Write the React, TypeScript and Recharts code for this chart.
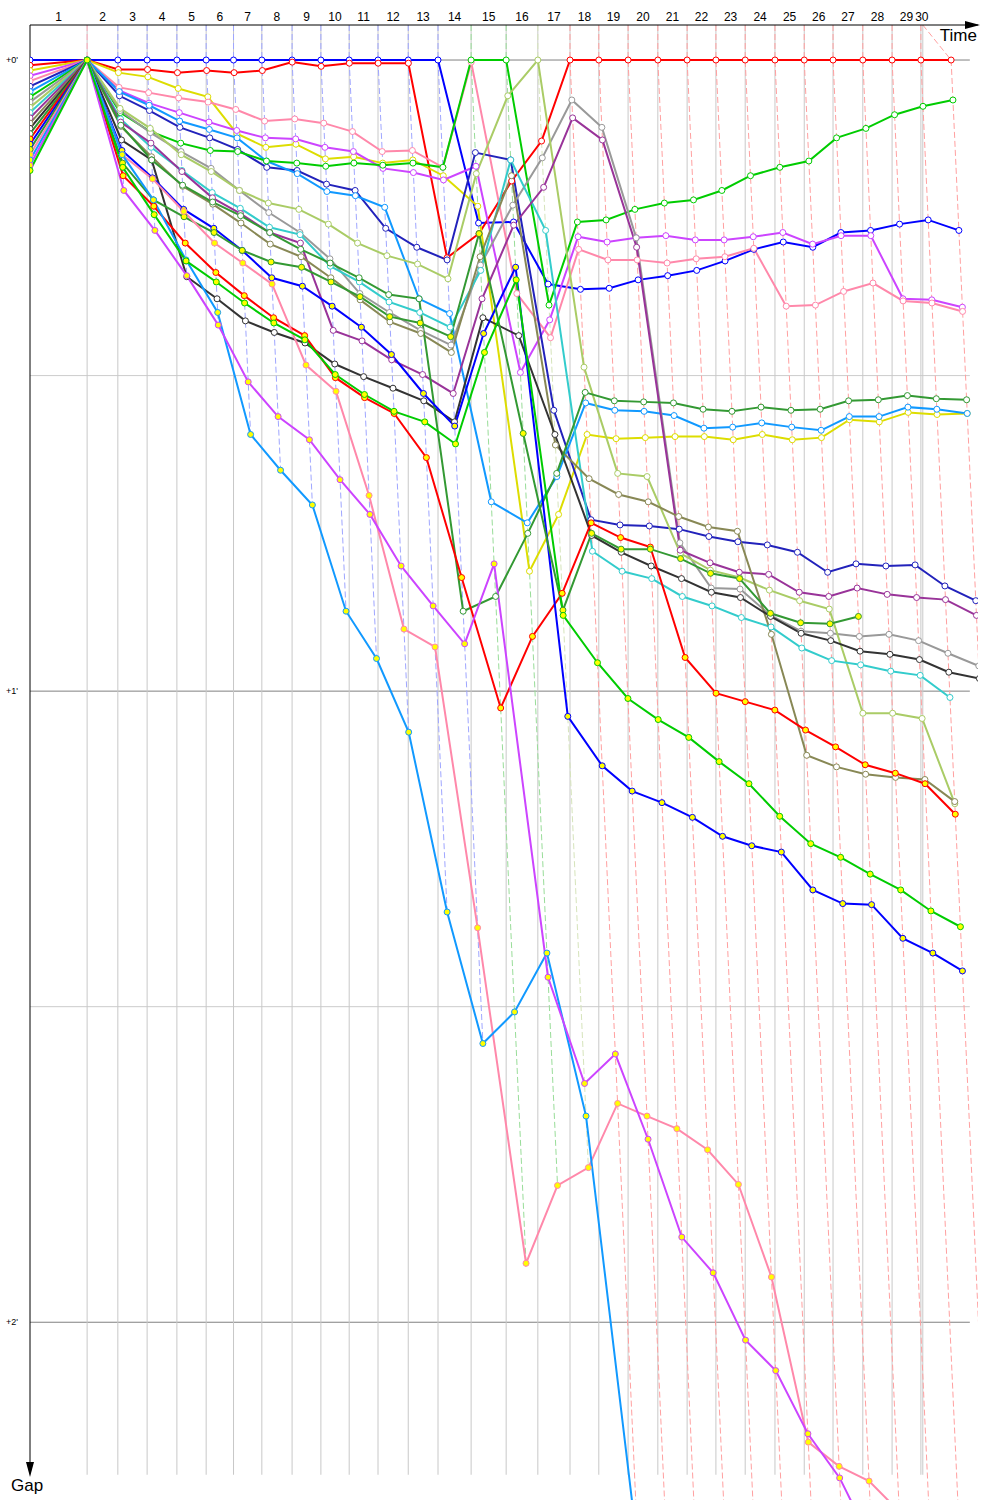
import { LineChart, Line, XAxis, YAxis, ReferenceLine } from "recharts";

// leader's race time (s) at the end of each lap, laps 1..30
const leaderLapTimes = [
  119, 183, 244, 306, 367, 424, 483, 546, 606, 665, 725, 788, 850, 919, 992,
  1058, 1125, 1185, 1246, 1308, 1369, 1429, 1490, 1552, 1613, 1673, 1735, 1796,
  1856, 1919,
];
const finishLineTime = 1860;
const gapTicks = [0, 60, 120];
const gapGrid = [0, 30, 60, 90, 120];

// gap to leader (s): index 0 = grid, then laps 1..30
const blueW = [0, 0, 0, 0, 0, 0, 0, 0, 0, 0, 0, 0, 0, 0, 15.5, 15.4, 21.3, 21.8, 21.7, 20.9, 20.5, 20.0, 19.1, 18.0, 17.3, 17.8, 16.4, 16.2, 15.6, 15.2, 16.2];
const redW = [0.5, 0, 0.9, 0.9, 1.2, 1.0, 1.2, 1.0, 0.2, 0.6, 0.3, 0.3, 0.3, 18.8, 16.5, 11.5, 7.7, 0, 0, 0, 0, 0, 0, 0, 0, 0, 0, 0, 0, 0, 0];
const yellowW = [1.0, 0, 1.2, 1.6, 2.7, 3.5, 7.0, 8.3, 8.0, 9.4, 9.2, 9.8, 9.5, 11.0, 13.9, 48.6, 43.2, 35.6, 36.0, 35.9, 35.8, 35.8, 36.1, 35.6, 36.1, 35.9, 34.2, 34.4, 33.5, 33.7, 33.6];
const purpleW = [1.5, 0, 2.9, 4.1, 5.0, 5.9, 6.7, 7.4, 7.5, 8.3, 8.7, 10.3, 10.7, 11.4, 10.1, 29.7, 24.7, 16.8, 17.3, 16.9, 16.7, 17.1, 17.1, 16.8, 16.4, 17.5, 16.7, 16.7, 22.7, 22.8, 23.5];
const pinkW = [2.0, 0, 2.6, 3.1, 3.6, 4.0, 4.7, 5.8, 5.6, 6.0, 6.8, 8.7, 8.6, 10.2, 0.2, 22.2, 26.4, 18.0, 19.0, 19.0, 19.3, 18.9, 18.7, 17.9, 23.4, 23.3, 22.0, 21.2, 22.9, 23.1, 23.9];
const navyW = [2.5, 0, 3.4, 4.8, 6.4, 7.4, 8.5, 10.2, 10.5, 11.8, 12.4, 16.0, 17.8, 19.0, 8.8, 9.5, 33.3, 43.7, 44.2, 44.3, 44.6, 45.3, 45.8, 46.1, 46.8, 48.7, 47.9, 48.1, 48.0, 50.0, 51.4];
const skyW = [3.0, 0, 3.0, 4.3, 5.8, 6.6, 7.4, 9.6, 10.8, 12.5, 12.9, 14.0, 22.7, 24.1, 42.0, 44.0, 39.6, 32.6, 33.3, 33.4, 33.8, 35.0, 34.9, 34.5, 34.9, 35.2, 33.9, 33.9, 33.0, 33.2, 33.6];
const greenW = [3.5, 0, 5.0, 6.8, 7.9, 8.6, 8.7, 9.6, 9.8, 10.1, 9.8, 10.0, 9.8, 10.2, 0, 0, 23.3, 15.4, 15.2, 14.2, 13.6, 13.3, 12.4, 11.0, 10.2, 9.6, 7.4, 6.5, 5.2, 4.4, 3.8];
const grayW = [4.0, 0, 4.8, 6.9, 8.7, 10.3, 12.4, 14.5, 16.4, 18.9, 22.2, 24.0, 25.7, 27.1, 19.5, 13.8, 9.3, 3.8, 6.4, 16.9, 45.9, 50.2, 50.3, 52.8, 54.3, 54.5, 54.8, 54.6, 55.2, 56.4, 57.6];
const oliveLightW = [4.5, 0, 4.6, 6.5, 9.0, 10.6, 12.4, 13.6, 14.2, 15.6, 17.4, 18.6, 19.4, 20.8, 10.8, 3.4, 0, 29.2, 39.3, 39.6, 46.9, 48.5, 49.2, 50.4, 51.4, 52.2, 62.1, 62.1, 62.6, 70.7, null];
const cyanW = [5.0, 0, 5.6, 8.3, 10.5, 12.6, 14.1, 15.9, 16.6, 19.6, 21.1, 23.0, 24.0, 25.4, 20.0, 9.5, 16.2, 46.7, 48.6, 49.3, 51.0, 51.9, 53.0, 53.9, 55.9, 57.1, 57.5, 58.1, 58.5, 60.6, null];
const darkPurpleW = [5.5, 0, 5.9, 7.9, 10.6, 13.1, 14.6, 16.4, 17.4, 25.7, 26.7, 28.5, 29.9, 31.7, 22.7, 15.7, 12.1, 5.5, 7.6, 17.8, 46.6, 47.8, 48.7, 48.9, 50.6, 51.0, 50.2, 50.8, 51.1, 51.3, 52.8];
const khakiW = [6.0, 0, 6.3, 9.2, 12.0, 13.7, 15.5, 17.5, 18.7, 20.7, 22.8, 24.9, 26.0, 27.8, 18.7, 11.0, 36.6, 39.8, 41.3, 42.0, 43.4, 44.4, 44.8, 54.6, 66.1, 67.2, 67.9, 68.2, 68.4, 70.5, null];
const blackW = [6.5, 0, 7.6, 9.5, 20.6, 22.7, 24.8, 25.9, 26.9, 28.9, 30.1, 31.2, 32.4, 34.4, 24.5, 26.2, 35.6, 45.2, 46.8, 48.1, 49.3, 50.6, 51.1, 52.9, 54.5, 55.2, 56.2, 56.5, 57.0, 58.2, 58.8];
const darkGreenW = [7.0, 0, 6.2, 9.5, 11.9, 13.5, 14.8, 16.4, 18.0, 19.3, 20.7, 22.3, 22.7, 52.4, 51.0, 45.0, 39.3, 31.6, 32.4, 32.5, 32.6, 33.2, 33.4, 33.0, 33.3, 33.2, 32.4, 32.3, 31.9, 32.2, 32.3];
const redY = [7.5, 0, 11.0, 13.9, 17.4, 20.2, 22.4, 24.5, 26.2, 30.2, 32.1, 33.6, 37.8, 49.2, 61.6, 54.8, 50.7, 44.0, 45.4, 46.3, 56.8, 60.2, 61.0, 61.8, 63.7, 65.3, 67.0, 67.8, 68.8, 71.7, null];
const blueY = [8.0, 0, 8.6, 11.2, 14.2, 16.0, 18.1, 20.7, 21.5, 23.4, 25.4, 28.0, 31.7, 34.8, 26.0, 19.7, 62.4, 67.1, 69.5, 70.6, 72.0, 73.8, 74.7, 75.3, 78.9, 80.2, 80.3, 83.5, 84.9, 86.6, null];
const darkGreenY = [8.5, 0, 9.8, 13.3, 14.9, 16.4, 18.1, 19.2, 19.7, 21.1, 22.5, 24.4, 25.0, 26.3, 16.5, 35.5, 52.3, 45.0, 46.5, 46.5, 47.4, 48.8, 49.3, 52.6, 53.5, 53.6, 52.9, null, null, null, null];
const pinkY = [9.0, 0, 9.0, 11.3, 14.4, 17.4, 19.3, 21.3, 29.0, 31.5, 41.4, 54.1, 55.8, 82.5, 114.4, 107.0, 105.3, 99.2, 100.4, 101.6, 103.6, 106.9, 115.7, 131.4, 133.7, 135.1, 138.0, 141.0, 144.0, 147.0, null];
const skyY = [9.5, 0, 9.0, 13.3, 19.0, 24.0, 35.6, 39.0, 42.3, 52.4, 56.9, 63.9, 81.0, 93.5, 90.5, 84.9, 100.4, 141.8, 152, 160, 168, 175, 182, 190, 197, 204, 211, 218, 225, 232, 240];
const purpleY = [10.0, 0, 12.4, 16.2, 20.5, 25.2, 30.6, 33.9, 36.1, 39.9, 43.2, 48.1, 51.9, 55.5, 47.9, 87.2, 97.3, 94.5, 102.6, 111.9, 115.3, 121.7, 124.6, 130.6, 134.8, 141.0, 145.0, 149.0, 153.0, 157.0, 161.0];
const greenY = [10.5, 0, 10.2, 14.7, 19.1, 21.1, 23.1, 25.0, 26.6, 29.9, 31.8, 33.4, 34.4, 36.5, 27.8, 20.9, 52.8, 57.3, 60.7, 62.7, 64.4, 66.7, 68.8, 71.9, 74.5, 75.8, 77.4, 78.9, 80.9, 82.4, null];

// who led each lap (laps 1..30)
const lapLeaders = [
  "pinkW",
  "blueW", "blueW", "blueW", "blueW", "blueW", "blueW", "blueW", "blueW", "blueW", "blueW", "blueW", "blueW",
  "greenW", "greenW", "oliveLightW",
  "redW", "redW", "redW", "redW", "redW", "redW", "redW", "redW", "redW", "redW", "redW", "redW", "redW", "redW",
];

type Driver = { id: string; color: string; fill: string; gaps: (number | null)[] };

const WHITE = "#ffffff";
const YEL = "#ffff00";

const drivers: Driver[] = [
  { id: "blueW", color: "#0000ff", fill: WHITE, gaps: blueW },
  { id: "redW", color: "#ff0000", fill: WHITE, gaps: redW },
  { id: "yellowW", color: "#dddd00", fill: WHITE, gaps: yellowW },
  { id: "purpleW", color: "#cc44ff", fill: WHITE, gaps: purpleW },
  { id: "pinkW", color: "#ff88aa", fill: WHITE, gaps: pinkW },
  { id: "navyW", color: "#2222bb", fill: WHITE, gaps: navyW },
  { id: "skyW", color: "#1199ff", fill: WHITE, gaps: skyW },
  { id: "greenW", color: "#00cc00", fill: WHITE, gaps: greenW },
  { id: "grayW", color: "#999999", fill: WHITE, gaps: grayW },
  { id: "oliveLightW", color: "#aacc66", fill: WHITE, gaps: oliveLightW },
  { id: "cyanW", color: "#33cccc", fill: WHITE, gaps: cyanW },
  { id: "darkPurpleW", color: "#993399", fill: WHITE, gaps: darkPurpleW },
  { id: "khakiW", color: "#888855", fill: WHITE, gaps: khakiW },
  { id: "blackW", color: "#333333", fill: WHITE, gaps: blackW },
  { id: "darkGreenW", color: "#339933", fill: WHITE, gaps: darkGreenW },
  { id: "redY", color: "#ff0000", fill: YEL, gaps: redY },
  { id: "blueY", color: "#0000ff", fill: YEL, gaps: blueY },
  { id: "darkGreenY", color: "#339933", fill: YEL, gaps: darkGreenY },
  { id: "pinkY", color: "#ff88aa", fill: YEL, gaps: pinkY },
  { id: "skyY", color: "#1199ff", fill: YEL, gaps: skyY },
  { id: "purpleY", color: "#cc44ff", fill: YEL, gaps: purpleY },
  { id: "greenY", color: "#00cc00", fill: YEL, gaps: greenY },
];

const paleColors: Record<string, string> = {
  pinkW: "#ffaabb",
  blueW: "#9fa6ff",
  greenW: "#99dd99",
  oliveLightW: "#d6e4bb",
  redW: "#ffa0a0",
};

const G_TOP = -3.33;
const G_BOTTOM = 136.9;
const GRID_BOTTOM = 134.5;
const X_MAX = 1975;

const gridTimes = [...leaderLapTimes.slice(0, 29), finishLineTime];
const lapBounds = [0, ...gridTimes];
const lapLabelTicks = gridTimes.map((t, i) => (lapBounds[i] + t) / 2);

const toPoints = (gaps: (number | null)[]) =>
  gaps
    .map((g, lap) =>
      g == null ? null : { t: lap === 0 ? 0 : leaderLapTimes[lap - 1] + g, g }
    )
    .filter((p): p is { t: number; g: number } => p !== null);

// dashed line joining every car's crossing of the line on the same lap
const isochrones = leaderLapTimes.map((T, i) => {
  const lap = i + 1;
  const maxGap = Math.max(
    ...drivers.map((d) => d.gaps[lap]).filter((g): g is number => g != null)
  );
  return {
    lap,
    color: paleColors[lapLeaders[i]],
    data: [
      { t: gridTimes[i], g: G_TOP },
      { t: T, g: 0 },
      { t: T + maxGap, g: maxGap },
    ],
  };
});

export default function App() {
  return (
    <div style={{ position: "absolute", left: 0, top: 0, width: 1000, height: 1500, background: "#fff" }}>
      <LineChart width={1000} height={1500} margin={{ top: 0, right: 22, bottom: 0, left: 0 }}>
        <XAxis
          type="number"
          dataKey="t"
          orientation="top"
          domain={[0, X_MAX]}
          allowDataOverflow
          ticks={lapLabelTicks}
          interval={0}
          tickFormatter={(_v: number, i: number) => String(i + 1)}
          height={25}
          tickLine={false}
          tickSize={0}
          tickMargin={4}
          axisLine={{ stroke: "#000" }}
          tick={{ fontSize: 12, fill: "#000", fontFamily: "Liberation Sans" }}
        />
        <YAxis
          type="number"
          dataKey="g"
          reversed
          domain={[G_TOP, G_BOTTOM]}
          allowDataOverflow
          ticks={gapTicks}
          tickFormatter={(v: number) => `+${v / 60}'`}
          width={30}
          axisLine={false}
          tickLine={false}
          tickSize={0}
          tickMargin={12}
          tick={{ fontSize: 9, fill: "#000", fontFamily: "Liberation Sans" }}
        />
        {gapGrid.map((g) => (
          <ReferenceLine
            key={`h${g}`}
            segment={[{ x: 0, y: g }, { x: 1958, y: g }]}
            stroke={g % 60 === 0 ? "#808080" : "#cccccc"}
            strokeWidth={1}
          />
        ))}
        {gridTimes.map((t, i) => (
          <ReferenceLine
            key={`v${i}`}
            segment={[{ x: t, y: G_TOP }, { x: t, y: GRID_BOTTOM }]}
            stroke="#c8c8c8"
            strokeWidth={1}
          />
        ))}
        <ReferenceLine segment={[{ x: 0, y: G_TOP }, { x: 0, y: 133.5 }]} stroke="#000" strokeWidth={1} />
        {isochrones.map((iso) => (
          <Line
            key={`iso${iso.lap}`}
            data={iso.data}
            dataKey="g"
            type="linear"
            stroke={iso.color}
            strokeWidth={1}
            strokeDasharray="6 3"
            dot={false}
            activeDot={false}
            isAnimationActive={false}
          />
        ))}
        {drivers.map((d) => (
          <Line
            key={d.id}
            name={d.id}
            data={toPoints(d.gaps)}
            dataKey="g"
            type="linear"
            stroke={d.color}
            strokeWidth={2}
            dot={{ r: 3, fill: d.fill, stroke: d.color, strokeWidth: 1 }}
            activeDot={false}
            isAnimationActive={false}
          />
        ))}
      </LineChart>
      <svg width={1000} height={1500} style={{ position: "absolute", left: 0, top: 0, pointerEvents: "none" }}>
        <polygon points="965,21 980,25 965,29" fill="#000" />
        <text x={977} y={41} textAnchor="end" fontSize={17} fontFamily="Liberation Sans" fill="#000">
          Time
        </text>
        <polygon points="26,1462 30,1477 34,1462" fill="#000" />
        <text x={11} y={1491} fontSize={17} fontFamily="Liberation Sans" fill="#000">
          Gap
        </text>
      </svg>
    </div>
  );
}
